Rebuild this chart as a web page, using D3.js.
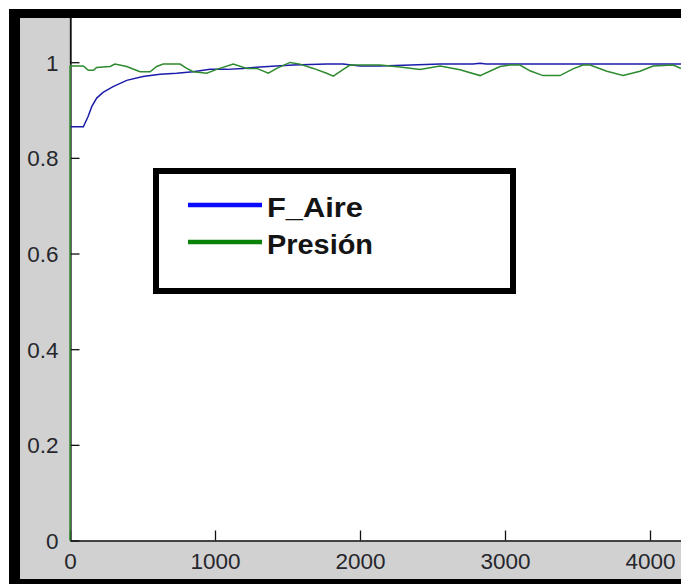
<!DOCTYPE html>
<html>
<head>
<meta charset="utf-8">
<script src="https://cdn.jsdelivr.net/npm/d3@7"></script>
<style>
  html, body { margin: 0; padding: 0; background: #ffffff; }
  svg { display: block; }
</style>
</head>
<body>
<svg id="chart" width="681" height="584"></svg>
<script>
// ---- data ----
const seriesNames = ["F_Aire", "Presión"];
const xTicks = [0, 1000, 2000, 3000, 4000];
const yTicks = [0, 0.2, 0.4, 0.6, 0.8, 1];

const fAireT = [0, 92, 124, 150, 184, 228, 297, 391, 503, 621, 736, 848, 966, 1081, 1193, 1310, 1538, 1772, 1883, 2000, 2138, 2350, 2552, 2780, 2828, 2870, 2966, 3300, 3700, 4100, 4214, 4600];
const fAireV = [0.865, 0.865, 0.886, 0.907, 0.925, 0.937, 0.949, 0.962, 0.970, 0.975, 0.977, 0.980, 0.985, 0.985, 0.987, 0.990, 0.994, 0.996, 0.996, 0.992, 0.992, 0.994, 0.996, 0.996, 0.998, 0.996, 0.996, 0.996, 0.996, 0.996, 0.996, 0.996];

const presionT = [0, 0, 12, 92, 126, 161, 184, 276, 310, 391, 483, 552, 598, 643, 759, 805, 850, 943, 1012, 1126, 1219, 1288, 1368, 1426, 1517, 1586, 1678, 1770, 1816, 1885, 1931, 2138, 2276, 2414, 2552, 2690, 2828, 2966, 3034, 3103, 3172, 3262, 3379, 3469, 3538, 3586, 3703, 3814, 3931, 4021, 4159, 4207, 4300, 4500];
const presionV = [0, 0.992, 0.992, 0.992, 0.983, 0.983, 0.989, 0.991, 0.996, 0.991, 0.980, 0.980, 0.991, 0.996, 0.996, 0.987, 0.980, 0.977, 0.985, 0.996, 0.987, 0.987, 0.977, 0.987, 0.9995, 0.996, 0.987, 0.977, 0.971, 0.985, 0.994, 0.994, 0.990, 0.985, 0.992, 0.984, 0.972, 0.991, 0.994, 0.994, 0.982, 0.972, 0.972, 0.986, 0.994, 0.994, 0.981, 0.972, 0.981, 0.992, 0.994, 0.988, 0.980, 0.985];

// ---- layout ----
const svg = d3.select("#chart");
const W = 681, H = 584;
const plotL = 70, plotB = 540.5, plotT = 18;

const x = d3.scaleLinear().domain([0, 5000]).range([plotL, plotL + 725]);
const y = d3.scaleLinear().domain([0, 1.1]).range([plotB, plotB - 1.1 * 478.3]);

// figure background
svg.append("rect").attr("x", 0).attr("y", 0).attr("width", W).attr("height", H).attr("fill", "#ffffff");
svg.append("rect").attr("x", 19).attr("y", 18).attr("width", W - 19).attr("height", 561).attr("fill", "#d1d1d1");

// plot area
svg.append("rect").attr("x", plotL).attr("y", plotT).attr("width", W - plotL).attr("height", plotB - plotT).attr("fill", "#ffffff");

svg.append("clipPath").attr("id", "clip")
  .append("rect").attr("x", plotL - 1).attr("y", plotT).attr("width", W - plotL + 1).attr("height", plotB - plotT + 1);

// axes
const fmt = d => (d === 0 ? "0" : d3.format("~g")(d));

const xAxis = svg.append("g")
  .attr("transform", `translate(0,${plotB})`)
  .call(d3.axisBottom(x).tickValues(xTicks).tickSizeInner(-10).tickSizeOuter(0).tickPadding(13).tickFormat(fmt));
const yAxis = svg.append("g")
  .attr("transform", `translate(${plotL + 0.5},0)`)
  .call(d3.axisLeft(y).tickValues(yTicks).tickSizeInner(-9).tickSizeOuter(0).tickPadding(12).tickFormat(fmt));

[xAxis, yAxis].forEach(g => {
  g.select(".domain").attr("stroke", "#111").attr("stroke-width", 1.3);
  g.selectAll(".tick line").attr("stroke", "#111").attr("stroke-width", 1.3);
  g.selectAll(".tick text")
    .attr("fill", "#26262c")
    .style("font-family", "'Liberation Sans', Arial, sans-serif")
    .style("font-size", "22.5px");
});
xAxis.selectAll(".tick text").attr("dy", "0.71em");
yAxis.selectAll(".tick text").attr("dy", "0.36em");

// series
const series = [
  { name: seriesNames[0], t: fAireT, v: fAireV, color: "#1c1caa", legendColor: "#0a0aff", textW: 96 },
  { name: seriesNames[1], t: presionT, v: presionV, color: "#2e8a2e", legendColor: "#0a820a", textW: 106 }
];

const line = d3.line().x(d => x(d[0])).y(d => y(d[1]));
const plotG = svg.append("g").attr("clip-path", "url(#clip)");
series.forEach(s => {
  const pts = s.t.map((t, i) => [t, s.v[i]]);
  plotG.append("path")
    .attr("d", line(pts))
    .attr("fill", "none")
    .attr("stroke", s.color)
    .attr("stroke-width", 1.5);
});

// top part of the y-axis line above the data
svg.append("line")
  .attr("x1", plotL + 0.5).attr("x2", plotL + 0.5)
  .attr("y1", plotT).attr("y2", y(0.995))
  .attr("stroke", "#111").attr("stroke-width", 1.3);

// legend
const leg = svg.append("g");
leg.append("rect")
  .attr("x", 156).attr("y", 171).attr("width", 357).attr("height", 120)
  .attr("fill", "#ffffff").attr("stroke", "#000").attr("stroke-width", 6);
series.forEach((s, i) => {
  const ly = 205 + i * 37;
  leg.append("line")
    .attr("x1", 188).attr("x2", 262).attr("y1", ly).attr("y2", ly)
    .attr("stroke", s.legendColor).attr("stroke-width", 4.5);
  leg.append("text")
    .attr("x", 267).attr("y", ly + 12)
    .attr("fill", "#141414")
    .attr("textLength", s.textW)
    .attr("lengthAdjust", "spacingAndGlyphs")
    .style("font-family", "'Liberation Sans', Arial, sans-serif")
    .style("font-weight", "bold")
    .style("font-size", "28px")
    .text(s.name);
});

// window frame (black bars)
svg.append("rect").attr("x", 9).attr("y", 9).attr("width", 11).attr("height", H - 9).attr("fill", "#000");
svg.append("rect").attr("x", 9).attr("y", 9).attr("width", W - 9).attr("height", 9).attr("fill", "#000");
svg.append("rect").attr("x", 9).attr("y", 579).attr("width", W - 9).attr("height", 5).attr("fill", "#000");
</script>
</body>
</html>
